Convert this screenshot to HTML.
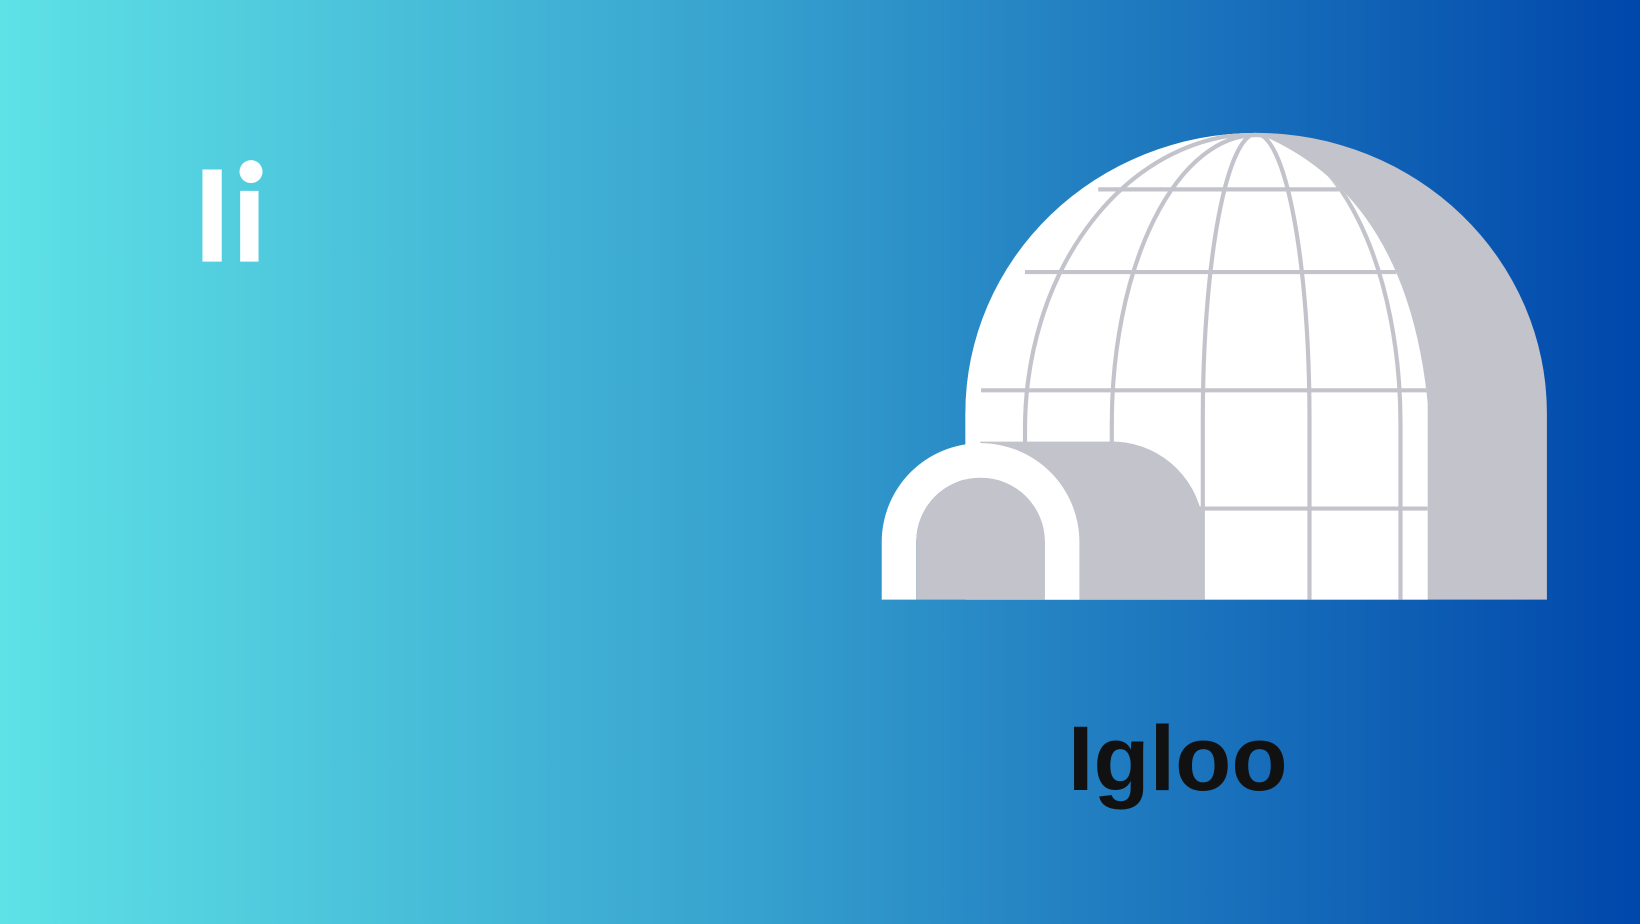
<!DOCTYPE html>
<html><head><meta charset="utf-8"><style>
html,body{margin:0;padding:0;width:1640px;height:924px;overflow:hidden}
svg{display:block}
</style></head><body>
<svg width="1640" height="924" viewBox="0 0 1568 883" preserveAspectRatio="none" xmlns="http://www.w3.org/2000/svg">
<defs>
<linearGradient id="bg" x1="0" y1="0" x2="1" y2="0">
<stop offset="0" stop-color="#5ee2e6"/>
<stop offset="0.45" stop-color="#37a2cf"/>
<stop offset="1" stop-color="#0047ab"/>
</linearGradient>
<clipPath id="wc"><path d="M923 573 V395 A278 268 0 0 1 1201 127 Q1345 185 1365 385 V573 Z"/></clipPath>
</defs>
<rect width="1568" height="883" fill="url(#bg)"/>
<text x="185" y="250" font-family="Liberation Sans, sans-serif" font-size="128" font-weight="bold" fill="#fff">Iı</text>
<circle cx="240" cy="164" r="11" fill="#fff"/>
<g>
<path d="M923 573 V395 A278 268 0 0 1 1479 395 V573 Z" fill="#c3c3cc"/>
<path d="M923 573 V395 A278 268 0 0 1 1201 127 Q1345 185 1365 385 V573 Z" fill="#fff"/>
<g clip-path="url(#wc)" stroke="#c3c3cc" stroke-width="4" fill="none">
<line x1="1050" y1="181" x2="1280" y2="181"/>
<line x1="980" y1="260" x2="1335" y2="260"/>
<line x1="938" y1="373" x2="1365" y2="373"/>
<line x1="1140" y1="486" x2="1365" y2="486"/>
<path d="M1150 573 V400 A51 272 0 0 1 1252 400 V573"/>
<path d="M1063 573 V405 A138 276 0 0 1 1339 405 V573"/>
<path d="M980 573 V410 A221 282 0 0 1 1422 410 V573"/>
</g>
<path d="M937 422 H1060 A88 88 0 0 1 1150 497 V573 H1000 Z" fill="#c3c3cc"/>
<path d="M843 573 V518 A94 94 0 0 1 1032 518 V573 H999 V518 A61 61 0 0 0 876 518 V573 Z" fill="#fff"/>
<path d="M876 573 V518 A61 61 0 0 1 999 518 V573 Z" fill="#c3c3cc"/>
</g>
<text x="1126" y="755" text-anchor="middle" font-family="Liberation Sans, sans-serif" font-size="88" font-weight="bold" fill="#111">Igloo</text>
</svg>
</body></html>
